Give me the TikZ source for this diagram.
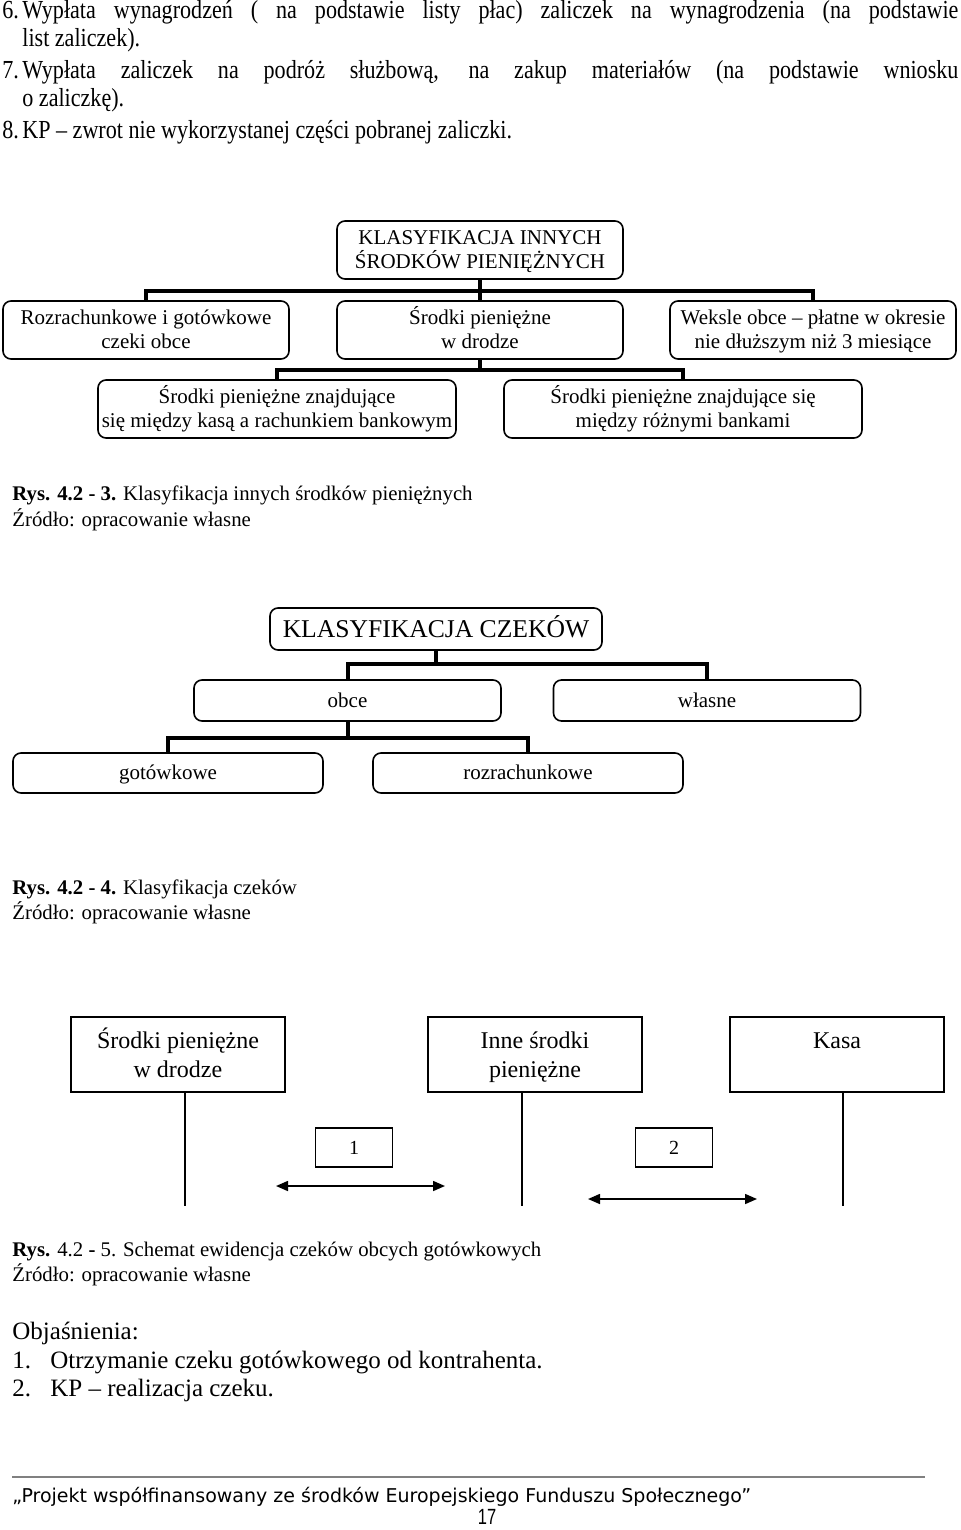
\documentclass[tikz,border=0pt]{standalone}
\usepackage{fontspec}
\setmainfont{Liberation Serif}
\newfontfamily\narrowfont[FakeStretch=0.85,Ligatures=TeX]{Liberation Serif}
\newfontfamily\footfont{DejaVu Sans}
\newfontfamily\pagefont[FakeStretch=0.75]{Liberation Sans}
\usetikzlibrary{arrows.meta}
\newcommand{\cstr}{\rule[-.22\baselineskip]{0pt}{\baselineskip}}
\newcommand{\brk}{\cstr\\\cstr}
\begin{document}
\begin{tikzpicture}[x=0.5pt, y=-0.5pt, >={Triangle[length=6pt,width=5pt]},
	rbox/.style={draw, line width=0.8pt, rounded corners=4pt, align=center, inner sep=0pt},
	sbox/.style={draw, line width=0.8pt, align=center, inner sep=0pt},
	tree/.style={line width=2pt},
	txt/.style={anchor=base west, inner sep=0pt},
	dA/.style={rbox, minimum width=143pt, minimum height=29pt, font=\fontsize{10.5}{12}\selectfont, execute at begin node=\cstr, execute at end node=\cstr},
	dB/.style={rbox, minimum height=20.5pt, font=\fontsize{10.5}{12}\selectfont, execute at begin node=\cstr},
	dC/.style={sbox, minimum width=107pt, minimum height=37.5pt, font=\fontsize{12}{14.5}\selectfont, execute at begin node=\cstr, execute at end node=\cstr}]
	\fill[white] (0,0) rectangle (960,1530);
	\useasboundingbox (0,0) rectangle (960,1530);
	% lista
	\begin{scope}[font=\narrowfont\fontsize{13}{15}\selectfont]
		\foreach\n/\y in {6/19,7/79,8/139}
		{\node[txt] (num\n) at (2,\y) {\n.};}
		\node[txt] (p6a) at (22,19) {\makebox[468pt][s]{Wypłata wynagrodzeń ( na podstawie listy płac) zaliczek na wynagrodzenia (na podstawie}};
		\node[txt] (p6b) at (22,47) {list zaliczek).};
		\node[txt] (p7a) at (22,79) {\makebox[468pt][s]{Wypłata zaliczek na podróż służbową, na zakup materiałów (na podstawie wniosku}};
		\node[txt] (p7b) at (22,107) {o zaliczkę).};
		\node[txt] (p8) at (22,139) {KP – zwrot nie wykorzystanej części pobranej zaliczki.};
	\end{scope}
	% rys 4.2-3
	\node[dA] (klasA) at (480,250) {KLASYFIKACJA INNYCH\brk ŚRODKÓW PIENIĘŻNYCH};
	\foreach\n/\x/\t in {rozr/146/{Rozrachunkowe i gotówkowe\brk czeki obce},drog/480/{Środki pieniężne\brk w drodze},weks/813/{Weksle obce – płatne w okresie\brk nie dłuższym niż 3 miesiące}}
	{\node[dA] (\n) at (\x,330) {\t};
		\draw[tree] (klasA.south)--++(0,11)-|(\n.north);
	}
	\foreach\n/\x/\t in {kasa/277/{Środki pieniężne znajdujące\brk się między kasą a rachunkiem bankowym},bank/683/{Środki pieniężne znajdujące się\brk między różnymi bankami}}
	{\node[dA, minimum width=179pt] (\n) at (\x,409) {\t};
		\draw[tree] (drog.south)--++(0,10)-|(\n.north);
	}
	\begin{scope}[font=\fontsize{10.4}{13}\selectfont]
		\node[txt] (rysA) at (12,500) {\textbf{Rys. 4.2 - 3.} Klasyfikacja innych środków pieniężnych};
		\node[txt] (zrA) at (12,526) {Źródło: opracowanie własne};
	\end{scope}
	% rys 4.2-4
	\node[rbox, minimum width=166pt, minimum height=21pt, font=\fontsize{12.8}{15}\selectfont, execute at begin node=\cstr] (klasB) at (436,629) {KLASYFIKACJA CZEKÓW};
	\foreach\n/\x/\t in {obce/347.5/obce,wlas/707/własne}
	{\node[dB, minimum width=153.5pt] (\n) at (\x,700.5) {\t};
		\draw[tree] (klasB.south)--++(0,13)-|(\n.north);
	}
	\foreach\n/\x/\t in {gotow/168/gotówkowe,rozrB/528/rozrachunkowe}
	{\node[dB, minimum width=155pt, minimum height=20pt] (\n) at (\x,773) {\t};
		\draw[tree] (obce.south)--++(0,16)-|(\n.north);
	}
	\begin{scope}[font=\fontsize{10.4}{13}\selectfont]
		\node[txt] (rysB) at (12,894) {\textbf{Rys. 4.2 - 4.} Klasyfikacja czeków};
		\node[txt] (zrB) at (12,919) {Źródło: opracowanie własne};
	\end{scope}
	% rys 4.2-5
	\foreach\n/\x/\s/\t in {srA/178/3.5/{Środki pieniężne\brk w drodze},srB/535/-6.5/{Inne środki\brk pieniężne},srC/837/3/{Kasa\brk\mbox{}}}
	{\node[dC] (\n) at (\x,1054.5) {\t};
		\draw[line width=0.8pt] ([xshift=\s pt]\n.south)--++(0,113) coordinate (\n end);
	}
	\foreach\n/\x in {1/354,2/674}
	{\node[sbox, minimum width=38.5pt, minimum height=19.5pt, font=\fontsize{10}{12}\selectfont, execute at begin node=\cstr] (op\n) at (\x,1147.5) {\n};}
	\path (276,1186) coordinate (a1L) (445,1186) coordinate (a1R) (588,1199) coordinate (a2L) (757,1199) coordinate (a2R);
	\draw[<->, line width=0.8pt] (a1L)--(a1R);
	\draw[<->, line width=0.8pt] (a2L)--(a2R);
	\begin{scope}[font=\fontsize{10.4}{13}\selectfont]
		\node[txt] (rysC) at (12,1256) {\textbf{Rys.} 4.2 \textbf{-} 5. Schemat ewidencja czeków obcych gotówkowych};
		\node[txt] (zrC) at (12,1281) {Źródło: opracowanie własne};
	\end{scope}
	\begin{scope}[font=\fontsize{12.5}{14}\selectfont]
		\node[txt] (obj) at (12,1339) {Objaśnienia:};
		\foreach\n/\y/\t in {1/1368/Otrzymanie czeku gotówkowego od kontrahenta.,2/1396/KP – realizacja czeku.}
		{\node[txt] (objn\n) at (12,\y) {\n.};
			\node[txt] (objt\n) at (50,\y) {\t};
		}
	\end{scope}
	% stopka
	\path (12,1477) coordinate (fL) (925,1477) coordinate (fR);
	\draw[line width=1pt, gray] (fL)--(fR);
	\node[txt, font=\footfont\fontsize{9.5}{11}\selectfont] (foot) at (12,1502) {„Projekt współfinansowany ze środków Europejskiego Funduszu Społecznego”};
	\node[font=\pagefont\fontsize{11}{13}\selectfont, inner sep=0pt] (pg) at (487,1517) {17};
\end{tikzpicture}
\end{document}
